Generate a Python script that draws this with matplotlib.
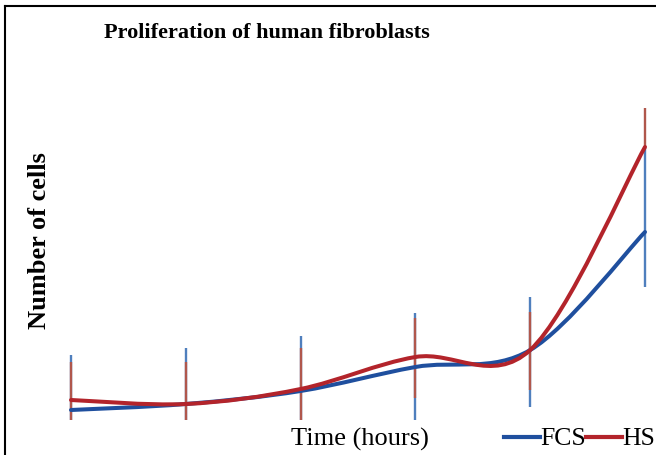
import matplotlib.pyplot as plt
from matplotlib.path import Path
from matplotlib.patches import PathPatch
from matplotlib.lines import Line2D

# ---------- data (arbitrary units) ----------
time_points = [0, 1, 2, 3, 4, 5]
fcs_values = [2.0, 2.6, 3.9, 6.3, 8.0, 19.8]
hs_values = [3.0, 2.6, 4.1, 7.3, 8.0, 28.3]
# error bar ends (low, high)
fcs_low = [1.0, 1.0, 1.0, 1.0, 2.3, 14.3]
fcs_high = [7.5, 8.2, 9.4, 11.7, 13.3, 28.2]
hs_low = [1.0, 1.0, 1.0, 3.2, 4.0, 28.3]
hs_high = [6.8, 6.8, 8.2, 11.2, 11.8, 32.2]

BLUE = '#1f4f9e'
RED = '#b3242b'
BLUE_BAR = '#4f7fbd'
RED_BAR = '#b0574c'

plt.rcParams['font.family'] = ['Liberation Serif', 'DejaVu Serif']


def smooth_path(xs, ys):
    # smoothed line like a spreadsheet chart: cubic bezier segments through the points
    verts = [(xs[0], ys[0])]
    codes = [Path.MOVETO]
    n = len(xs)
    for i in range(n - 1):
        x0, y0 = (xs[i - 1], ys[i - 1]) if i > 0 else (xs[i], ys[i])
        x1, y1 = xs[i], ys[i]
        x2, y2 = xs[i + 1], ys[i + 1]
        x3, y3 = (xs[i + 2], ys[i + 2]) if i + 2 < n else (x2, y2)
        c1 = (x1 + (x2 - x0) / 6, y1 + (y2 - y0) / 6)
        c2 = (x2 - (x3 - x1) / 6, y2 - (y3 - y1) / 6)
        verts += [c1, c2, (x2, y2)]
        codes += [Path.CURVE4] * 3
    return Path(verts, codes)


fig = plt.figure(figsize=(6.56, 4.55), dpi=100)
# axes spans pixels x 40..656, y 60..430
ax = fig.add_axes([40 / 656, 25 / 455, 616 / 656, 370 / 455])
ax.set_xlim(-31 / 114.8, 585 / 114.8)
ax.set_ylim(0, 37)
ax.axis('off')

# error bars
for lo, hi, col in [(fcs_low, fcs_high, BLUE_BAR), (hs_low, hs_high, RED_BAR)]:
    ax.vlines(time_points, lo, hi, colors=col, linewidth=1.7, zorder=2)

# smoothed lines
ax.add_patch(PathPatch(smooth_path(time_points, fcs_values), facecolor='none',
                       edgecolor=BLUE, linewidth=2.9, zorder=3, capstyle='round'))
ax.add_patch(PathPatch(smooth_path(time_points, hs_values), facecolor='none',
                       edgecolor=RED, linewidth=2.9, zorder=4, capstyle='round'))

# texts
fig.text(267 / 656, 1 - 33 / 455, 'Proliferation of human fibroblasts',
         ha='center', va='center', fontsize=16, fontweight='bold')
fig.text(40 / 656, 1 - 241 / 455, 'Number of cells', rotation=90,
         ha='center', va='center', fontsize=19, fontweight='bold')
fig.text(360 / 656, 1 - 439 / 455, 'Time (hours)', ha='center', va='center', fontsize=19)

handles = [Line2D([], [], color=BLUE, linewidth=3),
           Line2D([], [], color=RED, linewidth=3)]
fig.legend(handles, ['FCS', 'HS'], loc='center right', ncol=2,
           bbox_to_anchor=(655 / 656, 1 - 439 / 455), frameon=False, fontsize=18.5,
           handlelength=1.4, handletextpad=0.0, columnspacing=0.0, borderpad=0,
           borderaxespad=0)

# frame at left and top (rest cropped in the reference)
fig.add_artist(Line2D([5 / 656, 5 / 656], [0, 1 - 6 / 455], color='black', linewidth=1.5))
fig.add_artist(Line2D([5 / 656, 1], [1 - 6 / 455, 1 - 6 / 455], color='black', linewidth=1.5))

fig.savefig('out.png', dpi=100)
